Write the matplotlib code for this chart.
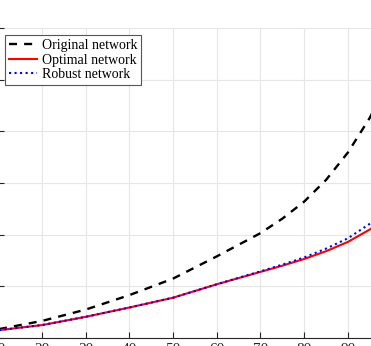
import numpy as np
import matplotlib
matplotlib.use("Agg")
import matplotlib.pyplot as plt

# values (y in grid units, tick labels are cropped away)
x = [10, 20, 30, 40, 50, 60, 70, 75, 80, 85, 90, 95, 100]
original = [0.17, 0.33, 0.55, 0.83, 1.15, 1.58, 2.03, 2.31, 2.64, 3.06, 3.59, 4.26, 5.10]
optimal = [0.15, 0.25, 0.41, 0.59, 0.78, 1.04, 1.28, 1.40, 1.53, 1.68, 1.86, 2.10, 2.40]
robust = [0.15, 0.25, 0.41, 0.59, 0.78, 1.04, 1.29, 1.42, 1.56, 1.73, 1.93, 2.21, 2.52]
labels = ["Original network", "Optimal network", "Robust network"]

plt.rcParams["font.family"] = ["Liberation Serif", "DejaVu Serif"]

W, H = 371, 346
fig = plt.figure(figsize=(W / 100, H / 100), dpi=100)
fig.patch.set_facecolor("white")

# axes placed so that the crop matches: x=10 just off the left edge, bottom at 338px
px_per_x = 43.7 / 10
left = -1.7 / W
width = 90 * px_per_x / W
bottom = 8 / H
height = 310 / H
ax = fig.add_axes([left, bottom, width, height])

ax.plot(x, original, "k--", linewidth=1.7, dashes=(3.4, 3.0), label=labels[0])
ax.plot(x, optimal, "-", color="#ff0000", linewidth=1.5, label=labels[1])
ax.plot(x, robust, ":", color="#0000ff", linewidth=1.5, label=labels[2])

ax.set_xlim(10, 100)
ax.set_ylim(0, 6)
ax.set_xticks(np.arange(10, 101, 10))
ax.set_yticks(np.arange(0, 7, 1))
ax.grid(True, color="#e6e6e6", linewidth=0.8)
ax.set_axisbelow(True)
ax.tick_params(direction="in", length=4, width=0.8, colors="#262626", labelsize=11)
ax.spines["top"].set_visible(False)
for s in ["bottom", "left", "right"]:
    ax.spines[s].set_color("#262626")
    ax.spines[s].set_linewidth(0.8)

leg = ax.legend(loc="upper left", bbox_to_anchor=(6.7 / (width * W), 1 - 7 / (height * H)),
                fontsize=10, frameon=True, fancybox=False, framealpha=1,
                edgecolor="#555555", handlelength=2.0, handletextpad=0.35,
                labelspacing=0.1, borderpad=0.3, borderaxespad=0)
leg.get_frame().set_linewidth(0.8)

fig.savefig("out.png", dpi=100)
